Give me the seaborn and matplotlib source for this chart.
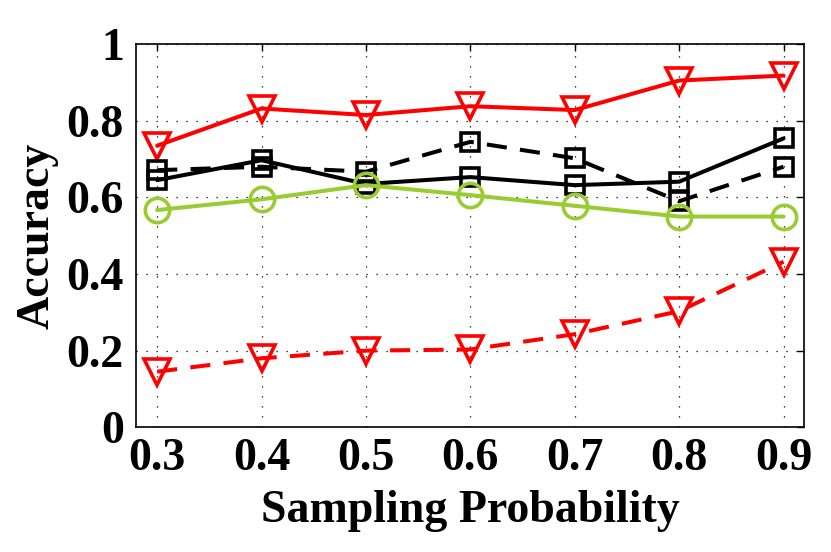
import matplotlib
matplotlib.use("Agg")
import matplotlib.pyplot as plt
import seaborn as sns
import pandas as pd

prob = [0.3, 0.4, 0.5, 0.6, 0.7, 0.8, 0.9]

red_solid = [0.735, 0.832, 0.815, 0.838, 0.828, 0.905, 0.918]
black_solid = [0.645, 0.697, 0.635, 0.653, 0.632, 0.641, 0.754]
black_dashed = [0.671, 0.680, 0.667, 0.745, 0.702, 0.590, 0.680]
green_solid = [0.567, 0.595, 0.632, 0.606, 0.578, 0.550, 0.550]
red_dashed = [0.145, 0.180, 0.200, 0.203, 0.243, 0.303, 0.432]

xticks = [0.3, 0.4, 0.5, 0.6, 0.7, 0.8, 0.9]
yticks = [0, 0.2, 0.4, 0.6, 0.8, 1.0]
ylabels = ["0", "0.2", "0.4", "0.6", "0.8", "1"]

sns.set_style("white")
plt.rcParams["font.family"] = ["Liberation Serif", "DejaVu Serif"]
plt.rcParams["font.weight"] = "bold"
plt.rcParams["text.color"] = "black"
plt.rcParams["axes.labelcolor"] = "black"
plt.rcParams["xtick.color"] = "black"
plt.rcParams["ytick.color"] = "black"

fig = plt.figure(figsize=(8.31, 5.52), dpi=100)
ax = fig.add_axes([0.164, 0.226, 0.804, 0.694])

dash = (0, (5, 3.3))
series = [
    (red_solid, "#ff0000", "-", "v", 19),
    (black_solid, "black", "-", "s", 13.5),
    (black_dashed, "black", dash, "s", 13.5),
    (green_solid, "#99cc33", "-", "o", 17.5),
    (red_dashed, "#ff0000", dash, "v", 19),
]

for vals, col, ls, mk, ms in series:
    df = pd.DataFrame({"p": prob, "acc": vals})
    sns.lineplot(data=df, x="p", y="acc", ax=ax, color=col, linestyle=ls,
                 linewidth=2.9, marker=mk, markersize=ms,
                 markerfacecolor="none", markeredgecolor=col,
                 markeredgewidth=2.6, zorder=3)

ax.set_xlim(0.28, 0.92)
ax.set_ylim(0, 1)
ax.set_xticks(xticks)
ax.set_xticklabels([f"{v:.1f}" for v in xticks])
ax.set_yticks(yticks)
ax.set_yticklabels(ylabels)
ax.grid(True, linestyle=(0, (1, 7)), color="black", linewidth=0.9)
ax.tick_params(direction="in", length=5, width=1, top=True, right=True,
               labelsize=33, colors="black")
ax.tick_params(axis="y", pad=9)
ax.tick_params(axis="x", pad=8)
for lab in ax.get_xticklabels() + ax.get_yticklabels():
    lab.set_fontweight("bold")
for sp in ax.spines.values():
    sp.set_linewidth(1.2)
    sp.set_color("black")

ax.set_xlabel("Sampling Probability", fontsize=33, fontweight="bold",
              labelpad=7, color="black")
ax.set_ylabel("Accuracy", fontsize=33, fontweight="bold", labelpad=6,
              color="black")

fig.savefig("out.png", dpi=100)
